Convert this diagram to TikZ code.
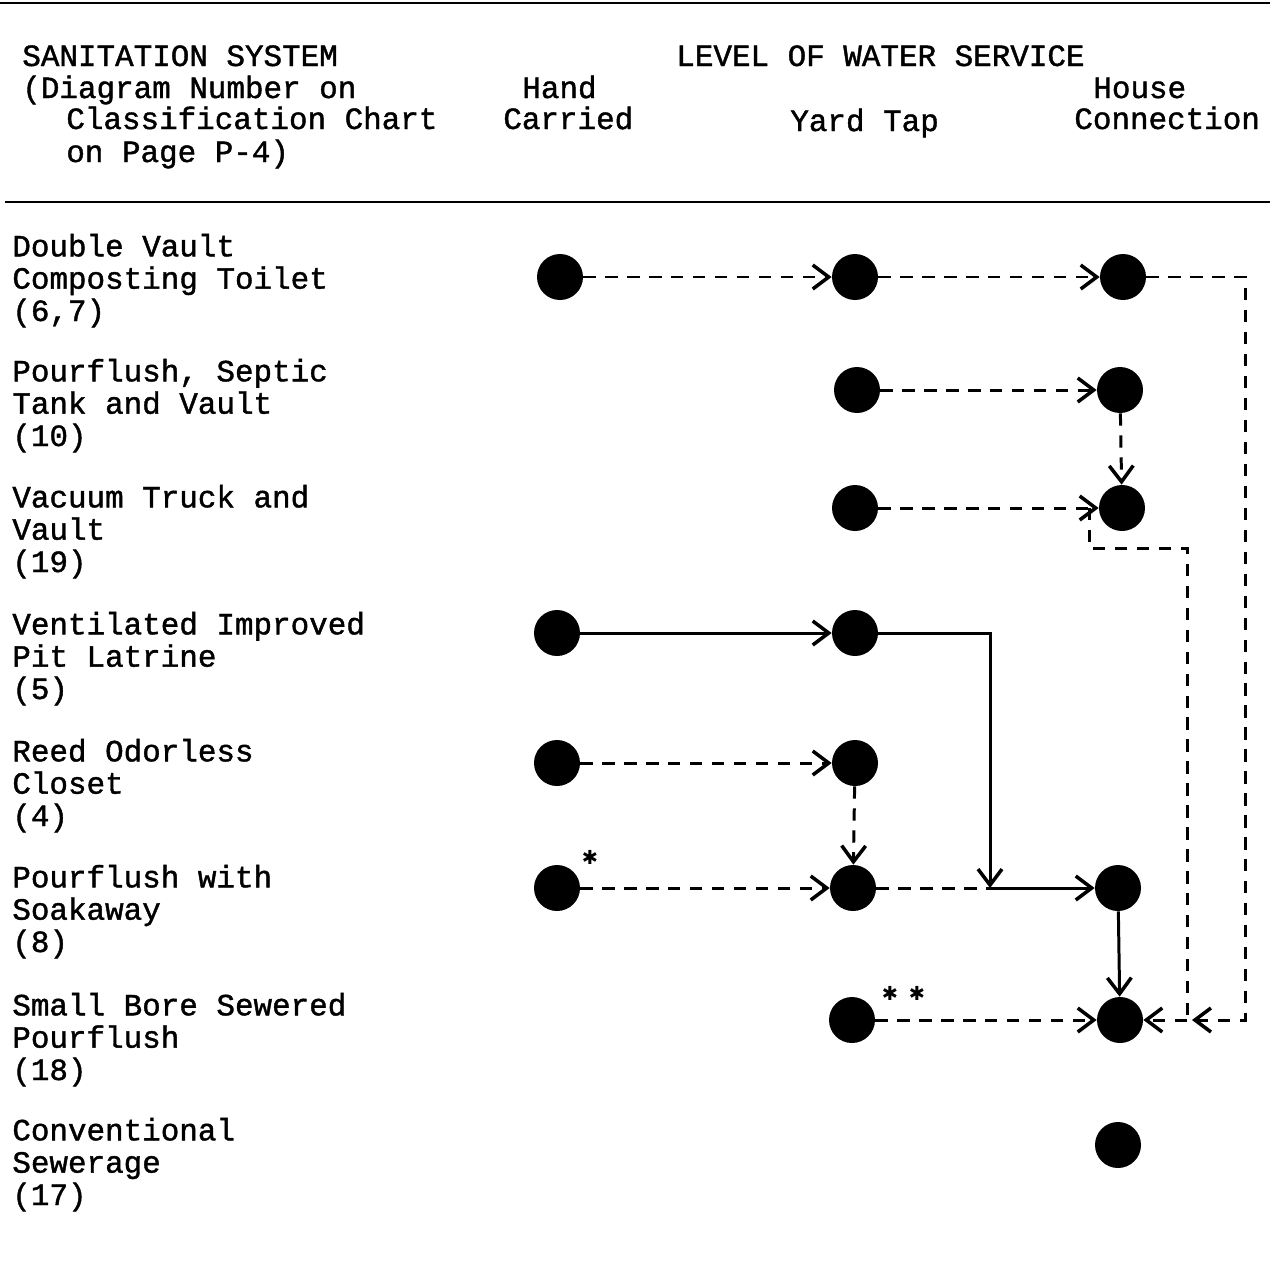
\documentclass[tikz,border=0pt]{standalone}
\usepackage{fontspec}
\setmonofont[FakeBold=1.3]{Liberation Mono}
\newfontfamily\starfont{DejaVu Sans}
\usetikzlibrary{arrows.meta}
\begin{document}
\begin{tikzpicture}[x=0.02cm,y=-0.02cm,
  txt/.style={font=\ttfamily\fontsize{17.6}{18.4}\selectfont, inner sep=0pt, anchor=base west, align=left},
  star/.style={font=\starfont\fontsize{11}{12}\selectfont, inner sep=0pt},
  dot/.style={circle, fill=black, draw=none, minimum size=0.92cm, inner sep=0pt},
  conn/.style={line width=1.7pt, -{Straight Barb[length=0.32cm,width=0.48cm,line width=2pt]}},
  dconn/.style={conn, dash pattern=on 7pt off 5.5pt},
  dline/.style={line width=1.7pt, dash pattern=on 7pt off 5.5pt},
  sline/.style={line width=1.7pt},
  rule/.style={line width=1.4pt}]
\useasboundingbox (0,0) rectangle (1270,1275);
% rules
\coordinate (t1) at (0,3); \coordinate (t2) at (1270,3);
\coordinate (b1) at (5,202); \coordinate (b2) at (1270,202);
\draw[rule] (t1) -- (t2);
\draw[rule] (b1) -- (b2);
% header text
\node[txt] (h1) at (22,66) {SANITATION SYSTEM};
\node[txt] (h2) at (22,98) {(Diagram Number on};
\node[txt] (h3) at (66,129) {Classification Chart};
\node[txt] (h4) at (66,162) {on Page P-4)};
\node[txt] (lv) at (676,66) {LEVEL OF WATER SERVICE};
\node[txt] (hc1) at (522,98) {Hand};
\node[txt] (hc2) at (503,129) {Carried};
\node[txt] (yt) at (790,131) {Yard Tap};
\node[txt] (hs1) at (1093,98) {House};
\node[txt] (hs2) at (1074,129) {Connection};
% row labels (anchor = baseline of last line)
\node[txt] (l1) at (12,321) {Double Vault\\Composting Toilet\\(6,7)};
\node[txt] (l2) at (12,446) {Pourflush, Septic\\Tank and Vault\\(10)};
\node[txt] (l3) at (12,572) {Vacuum Truck and\\Vault\\(19)};
\node[txt] (l4) at (12,699) {Ventilated Improved\\Pit Latrine\\(5)};
\node[txt] (l5) at (12,826) {Reed Odorless\\Closet\\(4)};
\node[txt] (l6) at (12,952) {Pourflush with\\Soakaway\\(8)};
\node[txt] (l7) at (12,1080) {Small Bore Sewered\\Pourflush\\(18)};
\node[txt] (l8) at (12,1205) {Conventional\\Sewerage\\(17)};
% dots
\node[dot] (a1) at (560,277) {};
\node[dot] (b1d) at (855,277) {};
\node[dot] (c1) at (1123,277) {};
\node[dot] (b2d) at (857,390) {};
\node[dot] (c2) at (1120,390) {};
\node[dot] (b3d) at (855,508) {};
\node[dot] (c3) at (1122,508) {};
\node[dot] (a4) at (557,633) {};
\node[dot] (b4) at (855,633) {};
\node[dot] (a5) at (557,763) {};
\node[dot] (b5) at (855,763) {};
\node[dot] (a6) at (557,888) {};
\node[dot] (b6) at (853,888) {};
\node[dot] (c6) at (1118,888) {};
\node[dot] (b7) at (852,1020) {};
\node[dot] (c7) at (1120,1020) {};
\node[dot] (c8) at (1118,1145) {};
% asterisks
\node[star] (s1) at (590,857) {✱};
\node[star] (s2) at (890,993) {✱};
\node[star] (s3) at (917,993) {✱};
% helper coordinates
\coordinate (r1) at (1245,277);
\coordinate (r2) at (1245,1020);
\coordinate (r3) at (1192,1020);
\coordinate (v0) at (1089,508);
\coordinate (v1) at (1089,548);
\coordinate (v2) at (1187,548);
\coordinate (v3) at (1187,1020);
\coordinate (p1) at (990,633);
\coordinate (p2) at (990,888);
% connectors row 1
\draw[dconn] (a1) -- (b1d);
\draw[dconn] (b1d) -- (c1);
\draw[dconn] (c1) -- (r1) -- (r2) -- (r3);
% row 2
\draw[dconn] (b2d) -- (c2);
\draw[dconn] (c2) -- (c3);
% row 3
\draw[dconn] (b3d) -- (c3);
\draw[dline] (v0) -- (v1) -- (v2) -- (v3);
\draw[dconn] (v3) -- (c7);
% row 4
\draw[conn] (a4) -- (b4);
\draw[conn] (b4) -- (p1) -- (p2);
\draw[conn] (p2) -- (c6);
% row 5
\draw[dconn] (a5) -- (b5);
\draw[dconn] (b5) -- (b6);
% row 6
\draw[dconn] (a6) -- (b6);
\draw[dline] (b6) -- (p2);
\draw[conn] (c6) -- (c7);
% row 7
\draw[dconn] (b7) -- (c7);
\end{tikzpicture}
\end{document}
